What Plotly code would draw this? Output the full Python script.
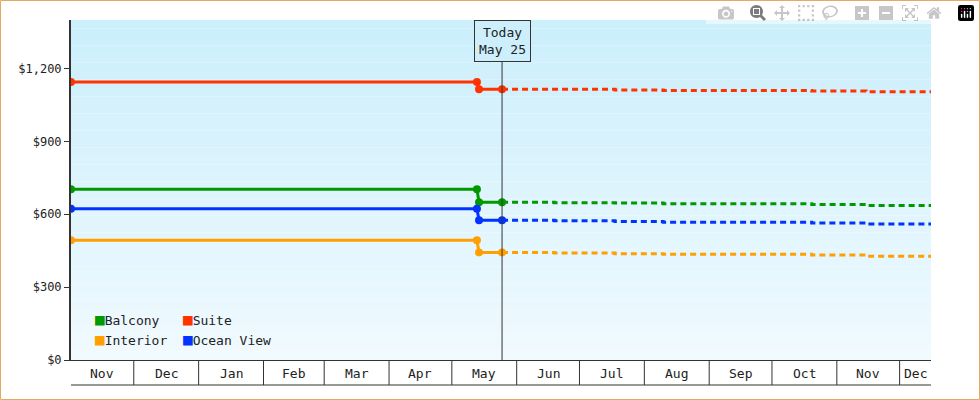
import plotly.graph_objects as go
import pandas as pd

# data
categories = ["Balcony", "Suite", "Interior", "Ocean View"]
colors = ["#009900", "#ff3300", "#ffa000", "#0033ff"]
hist_dates = ["2023-11-01", "2024-05-13", "2024-05-14", "2024-05-25"]
hist_values = {
    "Balcony": [703, 703, 650, 650],
    "Suite": [1145, 1145, 1115, 1115],
    "Interior": [493, 493, 443, 443],
    "Ocean View": [623, 623, 575, 575],
}
fc_dates = ["2024-05-25", "2024-06-19", "2024-07-18", "2024-08-10", "2024-10-20", "2024-11-15", "2024-12-16"]
fc_values = {
    "Balcony": [650, 648, 646, 643, 640, 636, 636],
    "Suite": [1115, 1115, 1112, 1110, 1108, 1105, 1105],
    "Interior": [443, 441, 438, 435, 432, 427, 427],
    "Ocean View": [575, 573, 570, 567, 564, 560, 560],
}
month_starts = ["2023-11-01", "2023-12-01", "2024-01-01", "2024-02-01", "2024-03-01", "2024-04-01",
                "2024-05-01", "2024-06-01", "2024-07-01", "2024-08-01", "2024-09-01", "2024-10-01",
                "2024-11-01", "2024-12-01", "2024-12-16"]
month_labels = ["Nov", "Dec", "Jan", "Feb", "Mar", "Apr", "May", "Jun", "Jul", "Aug", "Sep", "Oct", "Nov", "Dec"]
y_ticks = [0, 300, 600, 900, 1200]
y_labels = ["$0", "$300", "$600", "$900", "$1,200"]
today = "2024-05-25"

FONT = "DejaVu Sans Mono"
fig = go.Figure()

for name, c in zip(categories, colors):
    fig.add_trace(go.Scatter(x=fc_dates, y=fc_values[name], mode="lines", line_shape="hv",
                             line=dict(color=c, width=3, dash="6px,4px"), showlegend=False))
    fig.add_trace(go.Scatter(x=hist_dates, y=hist_values[name], mode="lines+markers",
                             line=dict(color=c, width=3), marker=dict(color=c, size=8),
                             showlegend=False))

shapes = []
# gradient background
n = 40
for i in range(n):
    t = i / (n - 1)
    r = int(0xf0 + (0xcc - 0xf0) * t)
    g = int(0xfa + (0xef - 0xfa) * t)
    b = int(0xff + (0xfc - 0xff) * t)
    shapes.append(dict(type="rect", xref="paper", yref="paper", x0=0, x1=1, y0=i / n, y1=(i + 1) / n,
                       fillcolor=f"rgb({r},{g},{b})", line_width=0, layer="below"))
# outer orange border
shapes.append(dict(type="rect", xref="paper", yref="paper", x0=-70.5 / 860, x1=1 + 48.5 / 860,
                   y0=-39.5 / 340, y1=1 + 19.5 / 340, line=dict(color="#e8a860", width=1)))
# month boxes under the axis
for d in month_starts[1:-1]:
    shapes.append(dict(type="line", xref="x", yref="paper", x0=d, x1=d, y0=0, y1=-25 / 340,
                       line=dict(color="#333", width=1)))
shapes.append(dict(type="line", xref="paper", yref="paper", x0=0, x1=1, y0=-25 / 340, y1=-25 / 340,
                   line=dict(color="#333", width=1)))
# today line
shapes.append(dict(type="line", xref="x", yref="paper", x0=today, x1=today, y0=0, y1=1,
                   line=dict(color="#333", width=1)))

annotations = []
ms = pd.to_datetime(month_starts)
for i, lab in enumerate(month_labels):
    mid = ms[i] + (ms[i + 1] - ms[i]) / 2
    annotations.append(dict(x=mid, y=-13 / 340, xref="x", yref="paper", yanchor="middle", text=lab,
                            showarrow=False, font=dict(family=FONT, size=13, color="#222")))
annotations.append(dict(x=today, y=1, xref="x", yref="paper", yanchor="top", text="Today<br>May 25",
                        showarrow=False, bgcolor="#cdeffc", bordercolor="#333", borderwidth=1, borderpad=4,
                        font=dict(family=FONT, size=13, color="#222")))
# legend
leg_pos = [(0.025, 0.118), (0.128, 0.118), (0.025, 0.059), (0.128, 0.059)]
for (lx, ly), name, c in zip(leg_pos, categories, colors):
    annotations.append(dict(x=lx, y=ly, xref="paper", yref="paper", xanchor="left", yanchor="middle",
                            showarrow=False, text=f"<span style='color:{c};font-size:16px'>■</span>{name}",
                            font=dict(family=FONT, size=13, color="#222")))

fig.update_layout(
    width=980, height=400, margin=dict(l=71, r=49, t=20, b=40),
    paper_bgcolor="white", plot_bgcolor="rgba(0,0,0,0)",
    shapes=shapes, annotations=annotations,
    xaxis=dict(range=[month_starts[0], month_starts[-1]], showticklabels=False, showgrid=False,
               zeroline=False, showline=True, linecolor="#333", linewidth=1),
    yaxis=dict(range=[0, 1400], tickvals=y_ticks, ticktext=y_labels,
               showgrid=False, zeroline=False, showline=True, linecolor="#333", linewidth=2,
               ticks="outside", ticklen=5, tickcolor="#333",
               tickfont=dict(family=FONT, size=12, color="#222")),
)
fig.write_html("out.html", post_script="document.body.style.margin='0';")
